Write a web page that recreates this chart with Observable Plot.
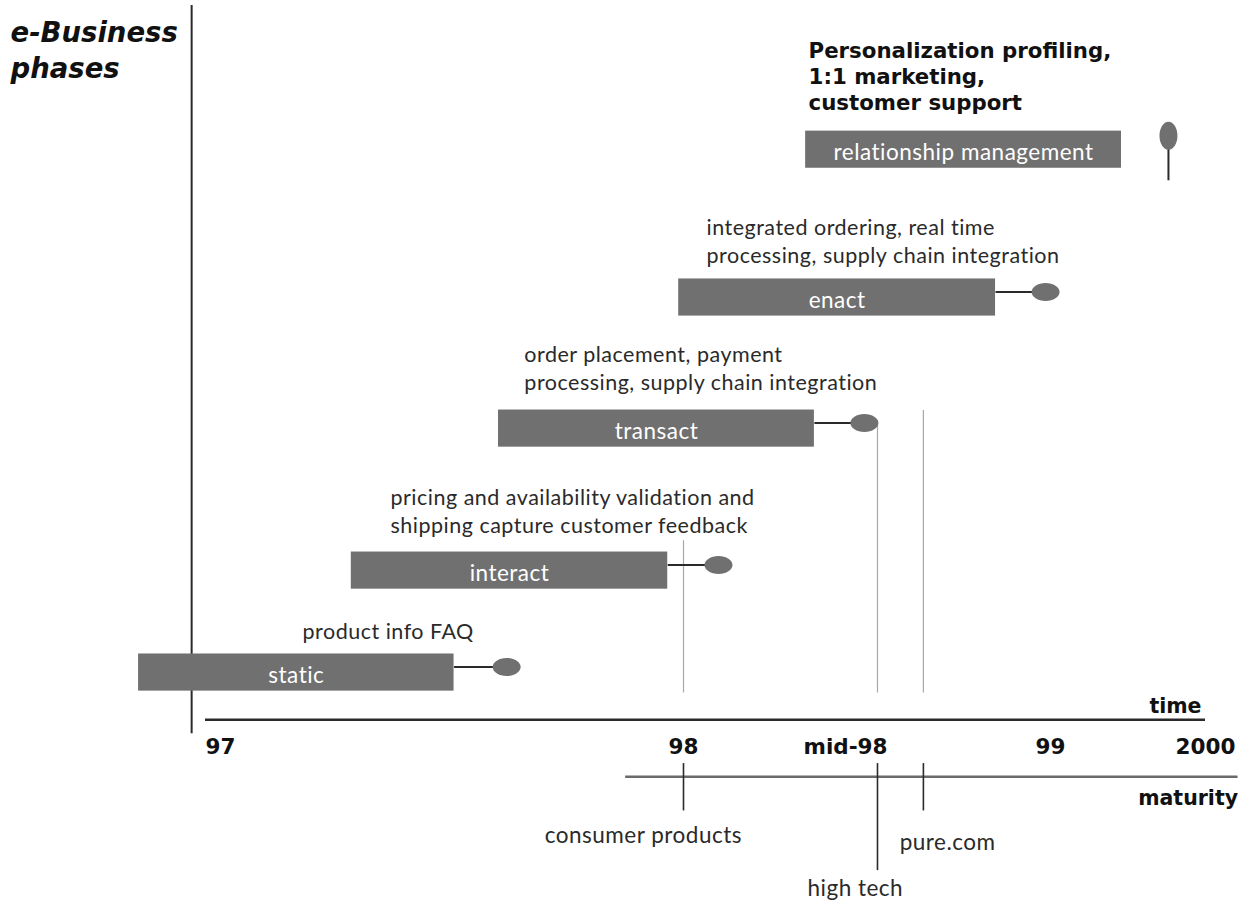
<!DOCTYPE html>
<html><head><meta charset="utf-8">
<script src="https://cdn.jsdelivr.net/npm/d3@7"></script>
<script src="https://cdn.jsdelivr.net/npm/@observablehq/plot@0.6"></script>
<style>body{margin:0;background:#fff} #chart svg{display:block}</style>
</head><body><div id="chart"></div>
<script>
// ---- data (time in years, level = height above the time axis, 0..100) ----
const phases = ["static", "interact", "transact", "enact", "relationship management"];
const phaseStart = [96.86, 97.305, 97.613, 97.99, 98.377];
const phaseEnd = [97.52, 97.967, 98.404, 98.866, 99.458];
const phaseLevel = [8.4, 22.4, 41.9, 59.9, 80.2];
const phaseMarker = [97.63, 98.108, 98.546, 98.988, 99.761];

const notes = [
  "product info FAQ",
  "pricing and availability validation and\nshipping capture customer feedback",
  "order placement, payment\nprocessing, supply chain integration",
  "integrated ordering, real time\nprocessing, supply chain integration",
  "Personalization profiling,\n1:1 marketing,\ncustomer support"
];
const noteX = [97.203, 97.387, 97.667, 98.071, 98.386];
const noteY = [13.05, 27.6, 47.25, 64.7, 85.6];

const timeTicks = [97, 98, 98.5, 99, 100];
const timeTickLabels = ["97", "98", "mid-98", "99", "2000"];

const segments = ["consumer products", "high tech", "pure.com"];
const segmentX = [98, 98.578, 98.69];
const segmentGuideTop = [26.5, 43, 44.4];
const segmentTickBottom = [-10.6, -18.8, -10.6];
const segmentLabelX = [97.916, 98.524, 98.749];
const segmentLabelY = [-14, -21.3, -15];

const pinTop = 82.1, pinBottom = 76.0;
const timeLineLevel = 1.92;
const maturityLevel = -5.9;
const maturityStart = 97.879, maturityEnd = 100.21;
const axisX = 96.971;

// ---- drawing ----
const FONT = "Lato, 'Liberation Sans', sans-serif";
const BOLD = "'DejaVu Sans', 'Open Sans', sans-serif";
const GREY = "#707070";
const INK = "#2a2a2a";
const half = 2.55, lift = 0.76;

const xOpts = {type: "linear", domain: [97, 98, 98.5, 99, 100], range: [205, 683, 845, 1050, 1205]};
const xs = Plot.scale({x: xOpts});
const midX = i => xs.invert((xs.apply(phaseStart[i]) + xs.apply(phaseEnd[i])) / 2);

function ellipse(rx, ry) {
  return {draw(ctx) {
    const k = 0.5523;
    ctx.moveTo(rx, 0);
    ctx.bezierCurveTo(rx, k * ry, k * rx, ry, 0, ry);
    ctx.bezierCurveTo(-k * rx, ry, -rx, k * ry, -rx, 0);
    ctx.bezierCurveTo(-rx, -k * ry, -k * rx, -ry, 0, -ry);
    ctx.bezierCurveTo(k * rx, -ry, rx, -k * ry, rx, 0);
    ctx.closePath();
  }};
}

const P = d3.range(phases.length);
const P4 = P.slice(0, 4);
const S = d3.range(segments.length);
const T = d3.range(1, timeTicks.length);

const boldText = {fontFamily: BOLD, fontWeight: "bold", fill: "#111"};

const chart = Plot.plot({
  width: 1241, height: 908, margin: 0,
  style: {fontFamily: FONT, background: "#fff"},
  x: {...xOpts, axis: null},
  y: {domain: [-24, 100], range: [908, 5], axis: null},
  marks: [
    // light guide lines
    Plot.ruleX(S, {x: i => segmentX[i], y1: i => segmentGuideTop[i], y2: 5.6, stroke: "#a8a8a8", strokeWidth: 1.2}),
    // vertical axis
    Plot.ruleX([axisX], {y1: 0, y2: 100, stroke: INK, strokeWidth: 2}),
    // bars
    Plot.rect(P, {x1: i => phaseStart[i], x2: i => phaseEnd[i], y1: i => phaseLevel[i] - half, y2: i => phaseLevel[i] + half, fill: GREY}),
    // connectors
    Plot.link(P4, {x1: i => phaseEnd[i], x2: i => phaseMarker[i], y1: i => phaseLevel[i] + lift, y2: i => phaseLevel[i] + lift, stroke: INK, strokeWidth: 2}),
    Plot.dot(P4, {x: i => phaseMarker[i], y: i => phaseLevel[i] + lift, symbol: ellipse(14, 9), fill: GREY, stroke: "none"}),
    // pin
    Plot.link([4], {x1: i => phaseMarker[i], x2: i => phaseMarker[i], y1: pinTop, y2: pinBottom, stroke: INK, strokeWidth: 2}),
    Plot.dot([4], {x: i => phaseMarker[i], y: pinTop, symbol: ellipse(9, 14), fill: GREY, stroke: "none"}),
    // bar labels
    Plot.text(P, {x: midX, y: i => phaseLevel[i], dy: 3, text: i => phases[i], fill: "#fff", fontSize: 22.5}),
    // notes
    Plot.text(P4, {x: i => noteX[i], y: i => noteY[i], text: i => notes[i], textAnchor: "start", lineAnchor: "bottom", lineHeight: 1.3, fontSize: 21.5, fill: INK}),
    Plot.text([4], {x: i => noteX[i], y: i => noteY[i], text: i => notes[i], textAnchor: "start", lineAnchor: "bottom", lineHeight: 1.22, fontSize: 21.3, ...boldText}),
    // time axis
    Plot.ruleY([timeLineLevel], {x1: 97, x2: 100, stroke: INK, strokeWidth: 2.5}),
    Plot.text(["time"], {x: 100, y: 3.8, text: d => d, textAnchor: "end", dx: -4, fontSize: 20.5, ...boldText}),
    Plot.text([0], {x: i => timeTicks[i], y: -1.8, text: i => timeTickLabels[i], textAnchor: "start", fontSize: 21.5, ...boldText}),
    Plot.text(T, {x: i => timeTicks[i], y: -1.8, text: i => timeTickLabels[i], fontSize: 21.5, ...boldText}),
    // maturity axis
    Plot.ruleY([maturityLevel], {x1: maturityStart, x2: maturityEnd, stroke: "#6a6a6a", strokeWidth: 2.5}),
    Plot.text(["maturity"], {x: maturityEnd, y: -8.9, text: d => d, textAnchor: "end", fontSize: 20.5, ...boldText}),
    Plot.ruleX(S, {x: i => segmentX[i], y1: -4.1, y2: i => segmentTickBottom[i], stroke: INK, strokeWidth: 1.6}),
    Plot.text(S, {x: i => segmentLabelX[i], y: i => segmentLabelY[i], text: i => segments[i], fontSize: 22.5, fill: INK}),
    // title
    Plot.text(["e-Business\nphases"], {x: 96.592, y: 94.05, text: d => d, textAnchor: "start", lineAnchor: "middle", lineHeight: 1.29, fontSize: 27.5, fontStyle: "italic", ...boldText})
  ]
});
chart.querySelectorAll("text").forEach(t => {
  const fw = t.closest("[font-weight]");
  if (!(fw && fw.getAttribute("font-weight") === "bold")) t.style.letterSpacing = "0.5px";
});
document.getElementById("chart").append(chart);
</script>
</body></html>
